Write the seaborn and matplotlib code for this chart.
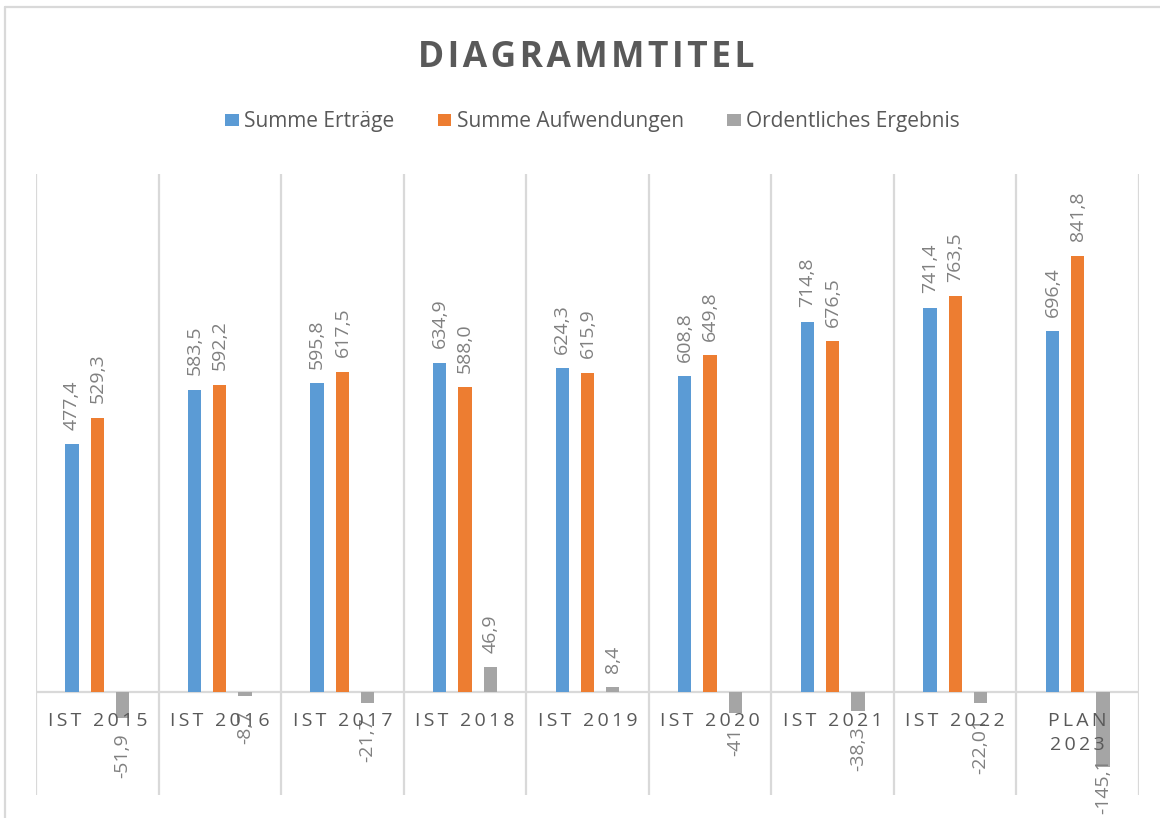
import numpy as np
import pandas as pd
import matplotlib
matplotlib.use("Agg")
import matplotlib.pyplot as plt
import seaborn as sns
from matplotlib.lines import Line2D

# Kategorien und Reihen
jahre = ["IST 2015", "IST 2016", "IST 2017", "IST 2018", "IST 2019",
         "IST 2020", "IST 2021", "IST 2022", "PLAN\n2023"]
reihen = ["Summe Erträge", "Summe Aufwendungen", "Ordentliches Ergebnis"]

# Werte (deutsches Zahlenformat, wie beschriftet)
ertraege = ["477,4", "583,5", "595,8", "634,9", "624,3", "608,8", "714,8", "741,4", "696,4"]
aufwendungen = ["529,3", "592,2", "617,5", "588,0", "615,9", "649,8", "676,5", "763,5", "841,8"]
ergebnis = ["-51,9", "-8,7", "-21,7", "46,9", "8,4", "-41", "-38,3", "-22,01", "-145,1"]

farben = ["#5B9BD5", "#ED7D31", "#A5A5A5"]
titel = "DIAGRAMMTITEL"

W, H = 1160, 818
FONT = ["Open Sans", "DejaVu Sans"]
GRID = "#D9D9D9"
TEXT_DARK = "#595959"
TEXT_LABEL = "#808080"


def zahl(s):
    return float(s.replace(",", "."))


def gesperrt(s, sep="\u2009"):
    """Sperrsatz: Zeichen jeder Zeile mit schmalem Abstand trennen."""
    return "\n".join(sep.join(list(zeile)) for zeile in s.split("\n"))


df = pd.DataFrame({
    "Jahr": jahre * len(reihen),
    "Reihe": np.repeat(reihen, len(jahre)),
    "Wert": [zahl(v) for v in ertraege + aufwendungen + ergebnis],
})

sns.set_style("white")
plt.rcParams["font.family"] = FONT

fig = plt.figure(figsize=(W / 100, H / 100), dpi=100)
ax = fig.add_axes([36 / W, 1 - 795 / H, 1103 / W, 621 / H])

sns.barplot(data=df, x="Jahr", y="Wert", hue="Reihe", order=jahre,
            hue_order=reihen, palette=farben, saturation=1,
            width=0.619, gap=0.473, ax=ax, legend=True, zorder=2,
            edgecolor="none", linewidth=0)

ax.set_ylim(-200, 1000)
ax.set_xlim(-0.5, len(jahre) - 0.5)
for s in ax.spines.values():
    s.set_visible(False)
ax.set_xticks([])
ax.set_yticks([])
ax.set_xlabel("")
ax.set_ylabel("")

# Trennlinien zwischen den Kategorien und Nulllinie
for x in np.arange(-0.5, len(jahre), 1.0):
    ax.axvline(x, color=GRID, lw=1.6, zorder=0)
ax.axhline(0, color=GRID, lw=1.6, zorder=1)

# Datenbeschriftungen
beschriftungen = []
for cont, texte in zip(ax.containers, [ertraege, aufwendungen, ergebnis]):
    beschriftungen += ax.bar_label(cont, labels=texte, rotation=90, padding=10.5,
                                   color=TEXT_LABEL, fontsize=14, family=FONT)

# Kategorienbeschriftungen unter der Nulllinie
for i, j in enumerate(jahre):
    ax.annotate(gesperrt(j), xy=(i, 0), xytext=(0, -14.5),
                textcoords="offset points", ha="center", va="top",
                fontsize=14, color=TEXT_DARK, family=FONT,
                linespacing=1.45, zorder=3)

# Legende
handles, labels = ax.get_legend_handles_labels()
ax.get_legend().remove()
fig.legend(handles, labels, loc="center", bbox_to_anchor=(0.5108, 0.851),
           ncol=3, frameon=False, prop={"family": FONT, "size": 15},
           labelcolor=TEXT_DARK, handlelength=0.65, handleheight=0.57,
           handletextpad=0.25, columnspacing=2.1, borderpad=0)

# Titel
fig.text(586.5 / W, 1 - 67 / H, gesperrt(titel, "\u200a"), ha="center",
         va="baseline", fontsize=25.5, fontweight="bold", color=TEXT_DARK,
         family=FONT)

# Diagrammrahmen
fig.add_artist(Line2D([5 / W, 5 / W], [0, 1 - 7 / H], transform=fig.transFigure,
                      color=GRID, lw=1.6))
fig.add_artist(Line2D([5 / W, 1], [1 - 7 / H, 1 - 7 / H], transform=fig.transFigure,
                      color=GRID, lw=1.6))

# Beschriftungen, die unten aus dem Bild laufen, nach oben schieben
fig.canvas.draw()
for t in beschriftungen:
    bb = t.get_window_extent()
    if bb.y0 < 4:
        dx, dy = t.xyann
        t.xyann = (dx, dy + (4 - bb.y0) * 72 / fig.dpi)

fig.savefig("out.png", dpi=100)
